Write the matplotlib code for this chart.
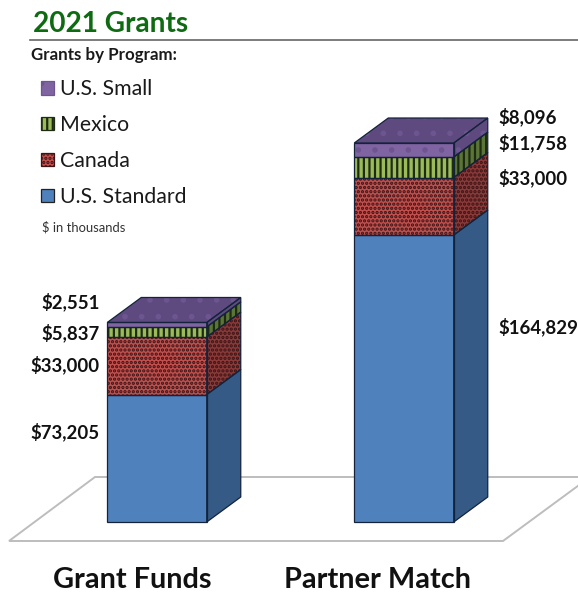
import matplotlib

matplotlib.use("Agg")
import matplotlib.pyplot as plt
import numpy as np
from matplotlib.lines import Line2D
from matplotlib.patches import Patch, Polygon

plt.rcParams["font.family"] = ["Lato", "DejaVu Sans"]

# ===== Data ($ in thousands) =====
CATEGORIES = ["Grant Funds", "Partner Match"]
US_STANDARD = [73.205, 164.829]
CANADA = [33.000, 33.000]
MEXICO = [5.837, 11.758]
US_SMALL = [2.551, 8.096]

LABELS_LEFT = ["$73,205", "$33,000", "$5,837", "$2,551"]
LABELS_RIGHT = ["$164,829", "$33,000", "$11,758", "$8,096"]

# ===== Style =====
W, H = 578, 592
EDGE = "#14233c"
# name, values, front colour, side colour, hatch, hatch colour
SERIES = [
    ("U.S. Standard", US_STANDARD, "#4f81bd", "#345a85", None, EDGE),
    ("Canada", CANADA, "#c0504d", "#8a3a38", "....", "#3a1416"),
    ("Mexico", MEXICO, "#9bbb59", "#5b7536", "|||", "#1d2a14"),
    ("U.S. Small", US_SMALL, "#8064a2", "#5f4a80", ".", "#6d5690"),
]

# pixel layout of the plot: baseline at y=522, 1.741 px per $1k, bars 247 px apart
PX_PER_UNIT = 1.741
PX_PER_CAT = 247
BAR_WIDTH = 99.5 / PX_PER_CAT
DEPTH_X = 34 / PX_PER_CAT
DEPTH_Y = 25 / PX_PER_UNIT


def fig_xy(x, y):
    """Pixel position in the reference -> figure fraction."""
    return x / W, 1 - y / H


def draw_floor(fig):
    corners = [(9, 541), (95, 477), (590, 477), (503, 541)]
    floor = Polygon(
        [fig_xy(*c) for c in corners],
        closed=True,
        transform=fig.transFigure,
        facecolor="white",
        edgecolor="#bdbdbd",
        linewidth=1.4,
        zorder=0,
    )
    fig.add_artist(floor)


def draw_face(ax, corners, face, hatch, hatch_color):
    # hatch colour follows the edge colour, so the outline goes on separately
    ax.add_patch(Polygon(corners, facecolor=face, edgecolor=hatch_color, linewidth=0,
                         hatch=hatch, zorder=3))
    ax.add_patch(Polygon(corners, fill=False, edgecolor=EDGE, linewidth=0.9, zorder=4))


def draw_segment(ax, cx, bottom, top, face, side, hatch, hatch_color, is_top):
    left = cx - BAR_WIDTH / 2
    right = cx + BAR_WIDTH / 2
    draw_face(ax, [(left, bottom), (right, bottom), (right, top), (left, top)],
              face, hatch, hatch_color)
    draw_face(ax, [(right, bottom), (right + DEPTH_X, bottom + DEPTH_Y),
                   (right + DEPTH_X, top + DEPTH_Y), (right, top)],
              side, hatch, hatch_color)
    if is_top:
        draw_face(ax, [(left, top), (right, top), (right + DEPTH_X, top + DEPTH_Y),
                       (left + DEPTH_X, top + DEPTH_Y)],
                  side, hatch, hatch_color)


def main():
    plt.rcParams["hatch.linewidth"] = 1.6

    fig = plt.figure(figsize=(W / 100, H / 100), dpi=100, facecolor="white")
    ax = fig.add_axes([0, 0, 1, 1], zorder=2)
    ax.patch.set_alpha(0)
    ax.set_xlim((0 - 157) / PX_PER_CAT, (W - 157) / PX_PER_CAT)
    ax.set_ylim((522 - H) / PX_PER_UNIT, 522 / PX_PER_UNIT)
    ax.axis("off")

    draw_floor(fig)

    # Stacked bars
    positions = np.arange(len(CATEGORIES))
    for i, cx in enumerate(positions):
        bottom = 0.0
        for j, (_name, values, face, side, hatch, hatch_color) in enumerate(SERIES):
            top = bottom + values[i]
            draw_segment(ax, cx, bottom, top, face, side, hatch, hatch_color, j == len(SERIES) - 1)
            bottom = top

    # Header
    fig.text(*fig_xy(33, 24), "2021 Grants", fontsize=20.2, fontweight="bold",
             color="#0e6b12", va="center", ha="left")
    fig.add_artist(Line2D([30 / W, 1], [1 - 40 / H] * 2, color="#666666", linewidth=1.2))
    fig.text(*fig_xy(31, 55), "Grants by Program:", fontsize=12.2, fontweight="bold",
             color="#1a1a1a", va="center", ha="left")
    fig.text(*fig_xy(42, 227), r"\$ in thousands", fontsize=9.4,
             color="#333333", va="center", ha="left")

    # Legend
    handles = [
        Patch(facecolor=face, edgecolor=hatch_color if hatch else "#222222", hatch=hatch,
              linewidth=0.9, label=name)
        for name, _v, face, _s, hatch, hatch_color in reversed(SERIES)
    ]
    ax.legend(
        handles=handles,
        loc="upper left",
        bbox_to_anchor=fig_xy(37, 75),
        bbox_transform=fig.transFigure,
        frameon=False,
        fontsize=15.3,
        labelcolor="#1a1a1a",
        handlelength=0.6,
        handleheight=0.6,
        handletextpad=0.3,
        labelspacing=0.75,
        borderpad=0.2,
        borderaxespad=0,
    )

    # Value labels
    for text, y in zip(LABELS_LEFT, [432, 365, 333, 302]):
        fig.text(*fig_xy(100, y), text.replace("$", r"\$"), fontsize=13.4, fontweight="bold",
                 color="#111111", va="center", ha="right")
    for text, y in zip(LABELS_RIGHT, [327, 178, 143, 117]):
        fig.text(*fig_xy(498, y), text.replace("$", r"\$"), fontsize=13.4, fontweight="bold",
                 color="#111111", va="center", ha="left")

    # Category labels
    for name, x in zip(CATEGORIES, [132, 378]):
        fig.text(*fig_xy(x, 580), name, fontsize=20.8, fontweight="bold",
                 color="#111111", va="center", ha="center")

    fig.savefig("out.png", dpi=100)


if __name__ == "__main__":
    main()
